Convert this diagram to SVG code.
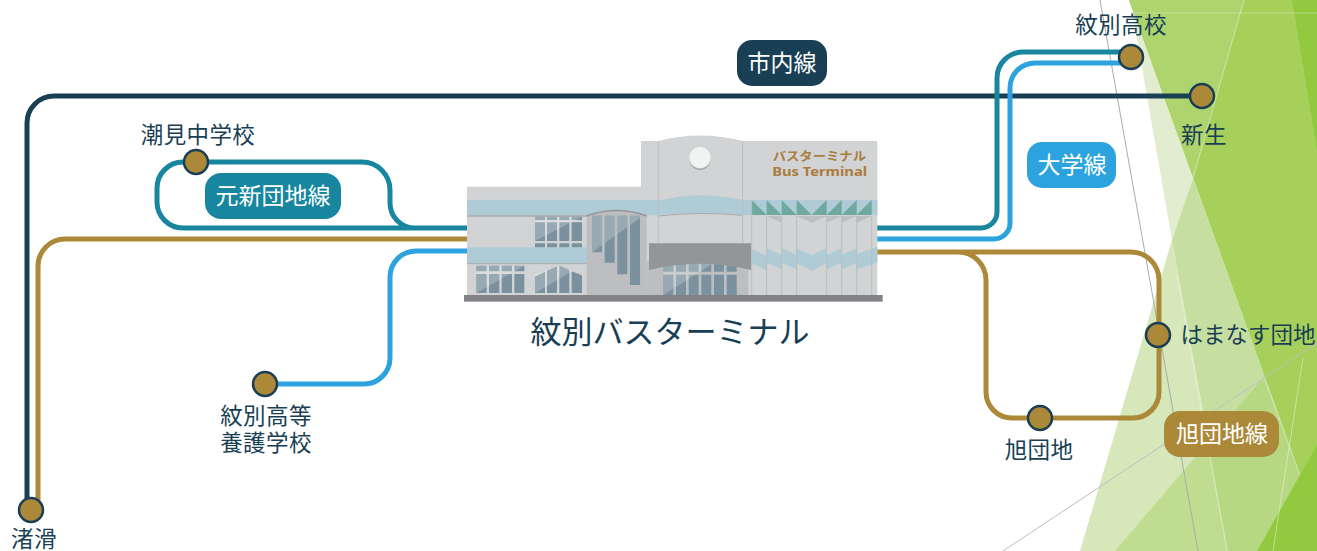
<svg xmlns="http://www.w3.org/2000/svg" width="1317" height="551" viewBox="0 0 1317 551">
<style>
text{font-family:"Noto Sans CJK JP","Noto Sans",sans-serif}
.st{font-size:22.5px;fill:#193f55;text-anchor:middle;letter-spacing:.4px}
.pl{font-size:23px;fill:#fff;text-anchor:middle}
.r{fill:none;stroke-width:5}
.navy{stroke:#193f55}.teal{stroke:#17869e}.blue{stroke:#2ca3de}.gold{stroke:#ac8839}
.dot{fill:#ac8839;stroke:#193f55;stroke-width:2.5}
.w{fill:#7a929f}
.g{fill:#bcbec0}
.bd{fill:#aecbd6}
.gr{fill:#6fa89c}
.pil{stroke:#bcbec0;stroke-width:3;fill:none}
.sh{fill:#fff;opacity:.22}
</style>
<defs>
<clipPath id="c1"><path d="M255 260h141v92H255z"/></clipPath>
<clipPath id="c2"><path d="M79 407h144v82H79z"/></clipPath>
<clipPath id="c3"><path d="M255 432L325 407L396 432V489H255z"/></clipPath>
<clipPath id="c4"><path d="M640 400h220v95H640z"/></clipPath>
<clipPath id="c5"><path d="M426 257h30v110h-30zM464 257h30v141h-30zM502 257h30v176h-30zM540 257h30v208h-30z"/></clipPath>
</defs>
<g id="background">
<polygon points="1129,0 1317,0 1317,522 1193,178" fill="#a6d05a"/>
<polygon points="1129,0 1244,0 1193,178" fill="#aed46d"/>
<polygon points="1292,0 1317,0 1317,150" fill="#93c93f"/>
<polygon points="1132,10 1172,240 1193,178" fill="#e2edd0"/>
<polygon points="1172,240 1228,551 1080,551" fill="#d6e7ba"/>
<polygon points="1172,240 1193,178 1317,522 1317,551 1228,551" fill="#c6dfa1"/>
<polygon points="1115,551 1263,378 1208,443 1228,551" fill="#c0dc90"/>
<polygon points="1208,443 1263,378 1317,522 1317,551 1228,551" fill="#b7d882"/>
<polygon points="1257,551 1317,445 1317,551" fill="#93c93f"/>
<g fill="none" stroke-width="1">
<path d="M1133 13H1317" stroke="#fff" stroke-opacity=".3"/>
<path d="M1244 0L1193 178" stroke="#fff" stroke-opacity=".45"/>
<path d="M1303 358L1273 551" stroke="#fff" stroke-opacity=".4"/>
<path d="M1177 275L1227 551" stroke="#fff" stroke-opacity=".4"/>
<path d="M1100 0L1198 551" stroke="#a8aaac"/>
<path d="M1003 551L1317 343" stroke="#bdbfc0"/>
</g>
</g>
<g id="connectors">
<path class="r navy" d="M1202 96H54A27 27 0 0 0 27 123V510"/>
<path class="r gold" d="M38 510V266A27 27 0 0 1 65 239H470"/>
<path class="r teal" d="M470 228H183A26 26 0 0 1 157 202V188A26 26 0 0 1 183 162H362A28 28 0 0 1 390 190V203A25 25 0 0 0 415 228"/>
<path class="r blue" d="M470 251H416A26 26 0 0 0 390 277V358A26 26 0 0 1 364 384H265"/>
<path class="r teal" d="M875 228H981A16 16 0 0 0 997 212V78A26 26 0 0 1 1023 52H1130"/>
<path class="r blue" d="M875 239H994A16 16 0 0 0 1010 223V88A25 25 0 0 1 1035 63H1130"/>
<path class="r gold" d="M875 252H1131A28 28 0 0 1 1159 280V392A26 26 0 0 1 1133 418H1012A26 26 0 0 1 986 392V280A28 28 0 0 0 958 252"/>
</g>
<g id="terminal">
<g transform="translate(450 130) scale(.33333)">
<path d="M51 170H573V33H625Q750 0 878 33H1282V495H51z" fill="#d1d3d4"/>
<rect x="51" y="210" width="574" height="46" class="bd"/>
<path d="M625 212Q750 182 878 210V255Q750 243 625 255z" class="bd"/>
<rect x="878" y="210" width="404" height="45" class="bd"/>
<path d="M51 258H410" stroke="#a7a9ac" stroke-width="4"/>
<path d="M625 258Q750 244 878 256" stroke="#a7a9ac" stroke-width="3" fill="none"/>
<rect x="51" y="352" width="360" height="47" class="bd"/>
<path d="M51 401H410" stroke="#a7a9ac" stroke-width="3"/>
<path d="M625 33V340M878 33V340" class="pil"/>
<path d="M905 358L950 378V421L905 400zM950 355L995 375V418L950 398zM995 355L1040 375V418L995 398zM1040 355L1085 376V422L1040 400zM1085 376L1130 355V398L1085 422zM1130 375L1175 355V398L1130 418zM1175 375L1220 355V398L1175 418zM1220 372L1282 350V398L1220 418z" class="bd"/>
<path d="M905 210L950 255H905zM950 210L995 255H950zM995 210L1040 255H995zM1040 210L1085 255H1040zM1130 210V255H1085zM1175 210V255H1130zM1220 210V255H1175zM1265 210V255H1220z" class="gr"/>
<path d="M950 258L995 278V258zM1040 258L1085 278L1130 258zM1130 278L1175 258H1130zM1175 278L1220 258H1175zM1220 278L1265 258H1220z" class="g"/>
<path d="M905 210V495M950 258V495M995 258V495M1040 258V495M1130 258V495M1175 258V495M1220 258V495M1265 258V495" class="pil"/>
<path d="M410 258Q500 225 590 258V495H410z" class="g"/>
<path d="M410 258Q500 225 590 258" fill="none" stroke="#939598" stroke-width="5"/>
<rect x="590" y="395" width="305" height="100" class="g"/>
<path d="M426 257h30v110h-30zM464 257h30v141h-30zM502 257h30v176h-30zM540 257h30v208h-30z" class="w"/>
<polygon points="426,257 580,257 426,367" class="sh" clip-path="url(#c5)"/>
<path d="M255 260h30v10h-30zM291 260h30v10h-30zM328 260h30v10h-30zM365 260h31v10h-31zM255 277h30v56h-30zM291 277h30v56h-30zM328 277h30v56h-30zM365 277h31v56h-31zM255 340h30v12h-30zM291 340h30v12h-30zM328 340h30v12h-30zM365 340h31v12h-31z" class="w"/>
<polygon points="255,260 396,260 255,333" class="sh" clip-path="url(#c1)"/>
<path d="M79 407h31v17H79zM117 407h31v17h-31zM155 407h31v17h-31zM193 407h30v17h-30zM79 432h31v57H79zM117 432h31v57h-31zM155 432h31v57h-31zM193 432h30v57h-30z" class="w"/>
<polygon points="79,407 223,407 79,489" class="sh" clip-path="url(#c2)"/>
<path d="M255 440L285 425V489H255zM291 422L321 409V489H291zM328 407L358 420V489H328zM365 424L396 436V489H365z" class="w"/>
<polygon points="255,489 396,407 255,407" class="sh" clip-path="url(#c3)"/>
<path d="M640 400h30v25h-30zM678 400h30v25h-30zM716 400h30v25h-30zM754 400h30v25h-30zM792 400h30v25h-30zM830 400h30v25h-30zM640 434h30v61h-30zM678 434h30v61h-30zM716 434h30v61h-30zM754 434h30v61h-30zM792 434h30v61h-30zM830 434h30v61h-30z" class="w"/>
<polygon points="640,495 640,400 790,400" class="sh" clip-path="url(#c4)"/>
<path d="M597 340H903V420Q750 382 597 420z" fill="#939598"/>
<rect x="42" y="495" width="1256" height="20" fill="#808285"/>
<circle cx="750" cy="88" r="32" fill="#a7a9ac"/>
<circle cx="750" cy="83" r="32" fill="#f1f2f2"/>
<text x="1108" y="94" font-size="36" font-weight="700" fill="#a97c3f" text-anchor="middle" textLength="280" lengthAdjust="spacingAndGlyphs">バスターミナル</text>
<text x="1109" y="137" font-size="36" font-weight="700" fill="#a97c3f" text-anchor="middle" textLength="285" lengthAdjust="spacingAndGlyphs" style="font-family:'Noto Sans',sans-serif">Bus Terminal</text>
</g>
<text x="670" y="343" font-size="31" fill="#193f55" text-anchor="middle">紋別バスターミナル</text>
</g>
<g id="line-shinai"><rect x="737" y="40" width="90" height="46" rx="15" fill="#193f55"/><text class="pl" x="782" y="71">市内線</text></g>
<g id="line-motoshin"><rect x="205" y="173" width="136" height="46" rx="16" fill="#17869e"/><text class="pl" x="273" y="204">元新団地線</text></g>
<g id="line-daigaku"><rect x="1027" y="142" width="89" height="46" rx="15" fill="#2ca3de"/><text class="pl" x="1072" y="173">大学線</text></g>
<g id="line-asahi"><rect x="1164" y="411" width="115" height="46" rx="16" fill="#ac8839"/><text class="pl" x="1222" y="442">旭団地線</text></g>
<g id="node-monbetsu-hs"><circle class="dot" cx="1131" cy="57" r="12"/><text class="st" x="1121" y="33">紋別高校</text></g>
<g id="node-shinsei"><circle class="dot" cx="1202" cy="96" r="12"/><text class="st" x="1204" y="143">新生</text></g>
<g id="node-shiomi"><circle class="dot" cx="196" cy="162" r="12"/><text class="st" x="198" y="143">潮見中学校</text></g>
<g id="node-hamanasu"><circle class="dot" cx="1158" cy="335" r="12"/><text class="st" x="1248" y="343" style="letter-spacing:0">はまなす団地</text></g>
<g id="node-asahi"><circle class="dot" cx="1040" cy="418" r="12"/><text class="st" x="1039" y="458">旭団地</text></g>
<g id="node-yogo"><circle class="dot" cx="265" cy="384" r="12"/><text class="st"><tspan x="266" y="424">紋別高等</tspan><tspan x="266" y="451">養護学校</tspan></text></g>
<g id="node-nagisa"><circle class="dot" cx="31" cy="510" r="12"/><text class="st" x="34" y="547">渚滑</text></g>
</svg>
